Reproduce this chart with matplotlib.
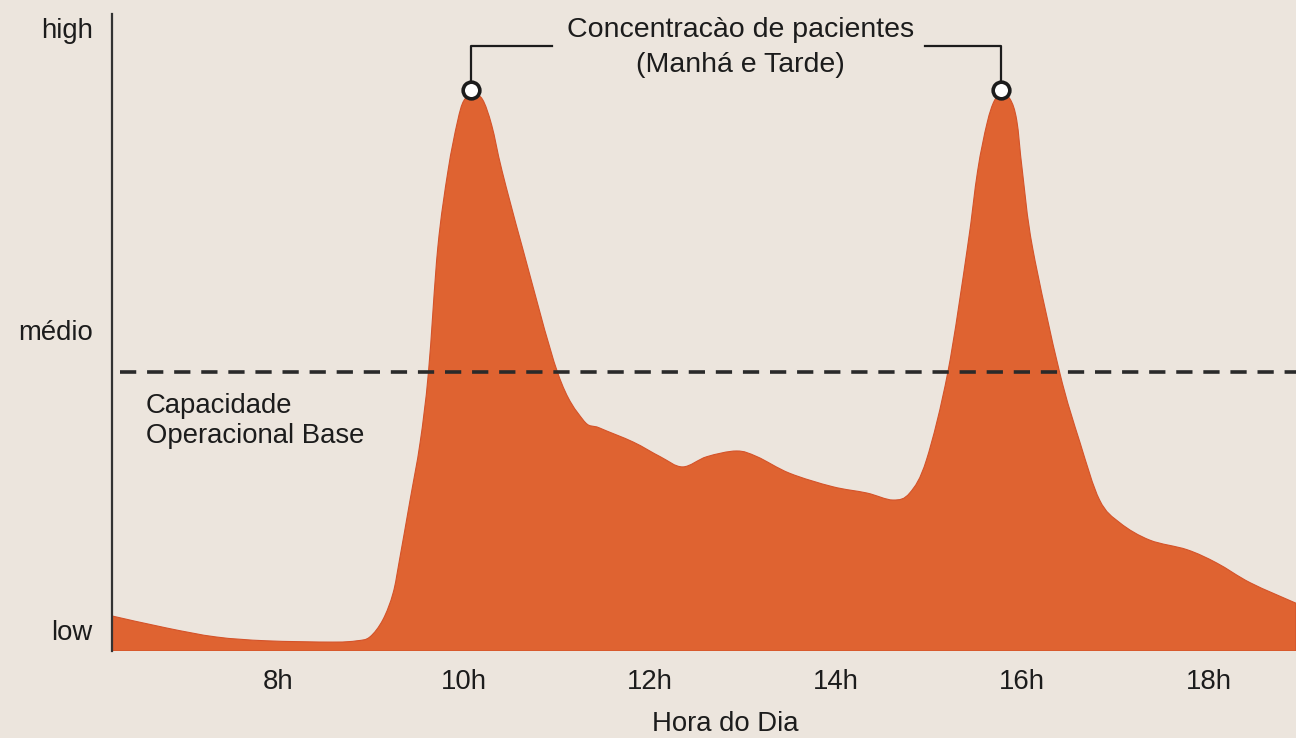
import matplotlib
matplotlib.use("Agg")
import matplotlib.pyplot as plt
from matplotlib.path import Path
from matplotlib.patches import PathPatch

plt.rcParams['font.family'] = ['Liberation Sans', 'DejaVu Sans']

# demand curve (hour of day, relative level 0-100)
hours = [6.22, 6.81, 7.34, 7.88, 8.59, 8.85, 8.99, 9.13, 9.24, 9.31, 9.42,
         9.53, 9.62, 9.72, 9.83, 9.93, 10.0, 10.1, 10.2, 10.3, 10.41, 10.63,
         11.01, 11.28, 11.46, 11.82, 12.11, 12.35, 12.61, 12.93, 13.15, 13.5,
         13.96, 14.33, 14.61, 14.79, 14.97, 15.2, 15.41, 15.52, 15.62, 15.7,
         15.78, 15.87, 15.94, 16.0, 16.11, 16.4, 16.62, 16.83, 17.05, 17.37,
         17.77, 18.09, 18.45, 18.94]
level = [5.5, 3.6, 2.2, 1.6, 1.4, 1.6, 2.2, 4.9, 9.1, 14.4, 23.5,
         32.7, 43.8, 63.3, 75.4, 83.0, 86.4, 87.3, 86.6, 82.5, 75.4, 63.3,
         43.6, 36.3, 35.0, 32.8, 30.5, 28.9, 30.5, 31.4, 30.5, 27.9,
         25.8, 24.8, 23.7, 24.8, 30.0, 43.8, 63.3, 75.4, 82.8, 86.4,
         87.3, 86.6, 83.3, 75.4, 63.3, 43.8, 32.7, 23.7, 20.1, 17.4,
         15.9, 13.8, 10.7, 7.5]

peak_hours = [10.08, 15.77]
peak_level = 88.1
capacity = 43.8

xticks = [8, 10, 12, 14, 16, 18]
xlabels = ['8h', '10h', '12h', '14h', '16h', '18h']
yticks = [3.3, 50.4, 97.8]
ylabels = ['low', 'médio', 'high']

bg = '#ECE5DD'
orange = '#DF6331'
ink = '#1c1c1c'
fs = 19.8


def smooth_area(xs, ys):
    # closed area under a smooth curve through the points (bezier segments)
    pts = list(zip(xs, ys))
    verts = [(xs[0], 0), pts[0]]
    codes = [Path.MOVETO, Path.LINETO]
    n = len(pts)
    for i in range(n - 1):
        p0 = pts[max(i - 1, 0)]
        p1 = pts[i]
        p2 = pts[i + 1]
        p3 = pts[min(i + 2, n - 1)]
        c1 = (p1[0] + (p2[0] - p0[0]) / 6, p1[1] + (p2[1] - p0[1]) / 6)
        c2 = (p2[0] - (p3[0] - p1[0]) / 6, p2[1] - (p3[1] - p1[1]) / 6)
        verts += [c1, c2, p2]
        codes += [Path.CURVE4] * 3
    verts += [(xs[-1], 0), (xs[0], 0)]
    codes += [Path.LINETO, Path.CLOSEPOLY]
    return Path(verts, codes)


fig = plt.figure(figsize=(12.96, 7.38), dpi=100, facecolor=bg)
ax = fig.add_axes([112/1296, 87/738, 1184/1296, 637/738])
ax.set_facecolor(bg)

ax.add_patch(PathPatch(smooth_area(hours, level), facecolor=orange, edgecolor='#D4532A',
                       linewidth=0.8, zorder=2))

# baseline capacity
ax.axhline(capacity, xmin=0.007, color='#2a2a2a', linewidth=2.6, dashes=(4.5, 3), zorder=3)
ax.text(6.58, 40.5, 'Capacidade\nOperacional Base', fontsize=fs, color=ink,
        va='top', ha='left', linespacing=1.2)

# peak annotation
top = 95.0
ax.plot([peak_hours[0], peak_hours[0], 10.95], [peak_level, top, top], color=ink, lw=1.6, zorder=4)
ax.plot([14.95, peak_hours[1], peak_hours[1]], [top, top, peak_level], color=ink, lw=1.6, zorder=4)
ax.plot(peak_hours, [peak_level] * 2, 'o', ms=12, mfc='white', mec=ink, mew=2.6, zorder=5,
        clip_on=False)
ax.text(12.97, 94.7, 'Concentracào de pacientes\n(Manhá e Tarde)', ha='center', va='center',
        fontsize=20.5, color=ink, linespacing=1.45)

ax.set_xlim(6.22, 18.94)
ax.set_ylim(0, 100)
ax.set_xticks(xticks)
ax.set_xticklabels(xlabels)
ax.set_yticks(yticks)
ax.set_yticklabels(ylabels)
ax.tick_params(axis='both', length=0, labelsize=fs, colors=ink)
ax.tick_params(axis='x', pad=13)
ax.tick_params(axis='y', pad=14)

ax.set_xlabel('Hora do Dia', fontsize=fs, color=ink)
ax.xaxis.set_label_coords(0.518, -0.094)

for s in ['top', 'right', 'bottom']:
    ax.spines[s].set_visible(False)
ax.spines['left'].set_color('#333333')
ax.spines['left'].set_linewidth(1.6)

fig.savefig('out.png', dpi=100, facecolor=bg)
